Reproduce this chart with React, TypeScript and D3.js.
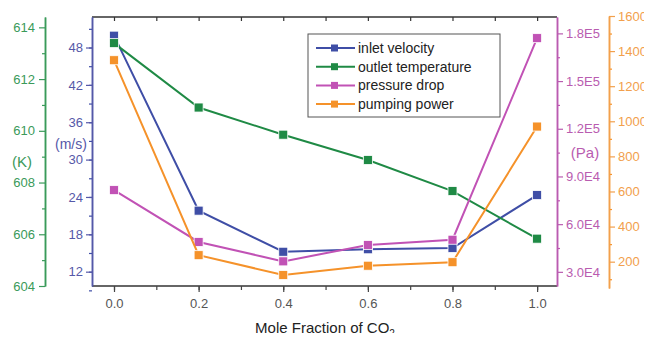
import React, { useRef, useEffect } from 'react';
import * as d3 from 'd3';

const moleFraction = [0.0, 0.2, 0.4, 0.6, 0.8, 1.0];
const inletVelocity = [49.9, 21.8, 15.2, 15.6, 15.8, 24.3];
const outletTemperature = [613.39, 610.9, 609.85, 608.87, 607.67, 605.83];
const pressureDrop = [81400, 48800, 36600, 46900, 50200, 177000];
const pumpingPower = [1348, 237, 124, 177, 197, 970];

const xTicks = [0, 0.2, 0.4, 0.6, 0.8, 1.0];
const velocityTicks = [12, 18, 24, 30, 36, 42, 48];
const tempTicks = [604, 606, 608, 610, 612, 614];
const pressureTicks = [30000, 60000, 90000, 120000, 150000, 180000];
const pressureLabels = ['3.0E4', '6.0E4', '9.0E4', '1.2E5', '1.5E5', '1.8E5'];
const powerTicks = [200, 400, 600, 800, 1000, 1200, 1400, 1600];

const seriesNames = ['inlet velocity', 'outlet temperature', 'pressure drop', 'pumping power'];
const colors = ['#3f4ea6', '#1f8a45', '#c152b5', '#f5922a'];

const App = () => {
  const chartRef = useRef<HTMLDivElement>(null);

  useEffect(() => {
    const chartDOM = chartRef.current;
    if (!chartDOM) return;
    d3.select(chartDOM).select('svg').remove();

    const width = 652, height = 341;
    const left = 92, right = 557, top = 17, bottom = 286;
    const font = 'Liberation Sans, Arial, sans-serif';

    const svg = d3
      .select(chartDOM)
      .append('svg')
      .attr('width', width)
      .attr('height', height)
      .style('display', 'block')
      .style('font-family', font);

    svg.append('rect').attr('width', width).attr('height', height).attr('fill', '#fff');

    const x = d3.scaleLinear().domain([-0.052, 1.047]).range([left, right]);
    const yVel = d3.scaleLinear().domain([9.7, 52.9]).range([bottom, top]);
    const yTemp = d3.scaleLinear().domain([604, 614.4]).range([286, 17]);
    const yPres = d3.scaleLinear().domain([21100, 190300]).range([bottom, top]);
    const yPow = d3.scaleLinear().domain([50, 1600]).range([288, 16]);

    // frame
    svg.append('line').attr('x1', left).attr('x2', right).attr('y1', top).attr('y2', top)
      .attr('stroke', '#333').attr('stroke-width', 1.5);
    svg.append('line').attr('x1', left).attr('x2', right).attr('y1', bottom).attr('y2', bottom)
      .attr('stroke', '#333').attr('stroke-width', 1.5);

    const styleAxis = (g, color, fontSize = 13) => {
      g.selectAll('path').attr('stroke', color).attr('stroke-width', 1.5);
      g.selectAll('line').attr('stroke', color).attr('stroke-width', 1.2);
      g.selectAll('text').attr('fill', color).style('font-size', fontSize + 'px').style('font-family', font);
    };

    // x axis bottom
    const xMinor = d3.range(0, 1.01, 0.1);
    const gxMinor = svg.append('g').attr('transform', `translate(0,${bottom})`)
      .call(d3.axisBottom(x).tickValues(xMinor).tickSize(4).tickFormat(() => '').tickSizeOuter(0));
    styleAxis(gxMinor, '#444');
    gxMinor.select('path').remove();
    const gx = svg.append('g').attr('transform', `translate(0,${bottom})`)
      .call(d3.axisBottom(x).tickValues(xTicks).tickSize(6).tickPadding(7).tickFormat(d3.format('.1f')).tickSizeOuter(0));
    styleAxis(gx, '#444');
    gx.select('path').remove();
    gx.selectAll('text').attr('fill', '#555');

    // top inward ticks
    const gxTop = svg.append('g').attr('transform', `translate(0,${top})`)
      .call(d3.axisTop(x).tickValues(xMinor).tickSize(-4).tickFormat(() => '').tickSizeOuter(0));
    styleAxis(gxTop, '#333');
    gxTop.select('path').remove();

    const xTitle = svg.append('text').attr('x', 325).attr('y', 333).attr('text-anchor', 'middle')
      .attr('fill', '#222').style('font-size', '15px');
    xTitle.append('tspan').text('Mole Fraction of CO');
    xTitle.append('tspan').text('2').attr('dy', 4).style('font-size', '10px');

    // blue (m/s) axis
    const gVelMinor = svg.append('g').attr('transform', `translate(${left},0)`)
      .call(d3.axisLeft(yVel).tickValues(d3.range(9, 53, 3)).tickSize(3).tickFormat(() => '').tickSizeOuter(0));
    styleAxis(gVelMinor, colors[0]);
    const gVel = svg.append('g').attr('transform', `translate(${left},0)`)
      .call(d3.axisLeft(yVel).tickValues(velocityTicks).tickSize(6).tickPadding(3).tickSizeOuter(0));
    styleAxis(gVel, '#5558a8');
    svg.append('text').attr('x', 71).attr('y', 149).attr('text-anchor', 'middle')
      .attr('fill', '#5558a8').style('font-size', '14px').text('(m/s)');

    // green (K) axis
    const gTempMinor = svg.append('g').attr('transform', 'translate(45,0)')
      .call(d3.axisLeft(yTemp).tickValues(d3.range(605, 615, 2)).tickSize(3).tickFormat(() => '').tickSizeOuter(0));
    styleAxis(gTempMinor, '#3a9a5a');
    const gTemp = svg.append('g').attr('transform', 'translate(45,0)')
      .call(d3.axisLeft(yTemp).tickValues(tempTicks).tickSize(6).tickPadding(4).tickSizeOuter(0));
    styleAxis(gTemp, '#3a9a5a');
    svg.append('text').attr('x', 22).attr('y', 167).attr('text-anchor', 'middle')
      .attr('fill', '#3a9a5a').style('font-size', '15px').text('(K)');

    // magenta (Pa) axis
    const gPresMinor = svg.append('g').attr('transform', `translate(${right},0)`)
      .call(d3.axisRight(yPres).tickValues(d3.range(45000, 190000, 30000)).tickSize(3).tickFormat(() => '').tickSizeOuter(0));
    styleAxis(gPresMinor, colors[2]);
    const gPres = svg.append('g').attr('transform', `translate(${right},0)`)
      .call(d3.axisRight(yPres).tickValues(pressureTicks).tickSize(6).tickPadding(3)
        .tickFormat((d, i) => pressureLabels[i]).tickSizeOuter(0));
    styleAxis(gPres, '#b95cb0');
    svg.append('text').attr('x', 585).attr('y', 158).attr('text-anchor', 'middle')
      .attr('fill', '#b95cb0').style('font-size', '15px').text('(Pa)');

    // orange axis
    const gPowMinor = svg.append('g').attr('transform', 'translate(609,0)')
      .call(d3.axisRight(yPow).tickValues(d3.range(100, 1600, 200)).tickSize(3).tickFormat(() => '').tickSizeOuter(0));
    styleAxis(gPowMinor, colors[3]);
    const gPow = svg.append('g').attr('transform', 'translate(609,0)')
      .call(d3.axisRight(yPow).tickValues(powerTicks).tickSize(6).tickPadding(3)
        .tickFormat(d3.format('d')).tickSizeOuter(0));
    styleAxis(gPow, '#f2a04c');

    // series
    const series = [
      { values: inletVelocity, y: yVel },
      { values: outletTemperature, y: yTemp },
      { values: pressureDrop, y: yPres },
      { values: pumpingPower, y: yPow },
    ];

    series.forEach((s, i) => {
      const pts = moleFraction.map((m, j) => [x(m), s.y(s.values[j])] as [number, number]);
      svg.append('path').attr('d', d3.line()(pts)).attr('fill', 'none')
        .attr('stroke', colors[i]).attr('stroke-width', 2);
      svg.append('g').selectAll('rect').data(pts).enter().append('rect')
        .attr('x', d => d[0] - 4.5).attr('y', d => d[1] - 4.5)
        .attr('width', 9).attr('height', 9)
        .attr('fill', colors[i]).attr('stroke', '#fff').attr('stroke-width', 0.8);
    });

    // legend
    const legend = svg.append('g');
    legend.append('rect').attr('x', 308).attr('y', 34).attr('width', 192).attr('height', 83)
      .attr('fill', '#fff').attr('stroke', '#555').attr('stroke-width', 1);
    seriesNames.forEach((name, i) => {
      const yy = 48 + i * 18.7;
      legend.append('line').attr('x1', 316).attr('x2', 355).attr('y1', yy).attr('y2', yy)
        .attr('stroke', colors[i]).attr('stroke-width', 2);
      legend.append('rect').attr('x', 331).attr('y', yy - 3.5).attr('width', 7).attr('height', 7)
        .attr('fill', colors[i]);
      legend.append('text').attr('x', 358).attr('y', yy + 5).attr('fill', '#222')
        .style('font-size', '14px').text(name);
    });
  }, []);

  return <div ref={chartRef} style={{ margin: '-8px' }} />;
};

export default App;
